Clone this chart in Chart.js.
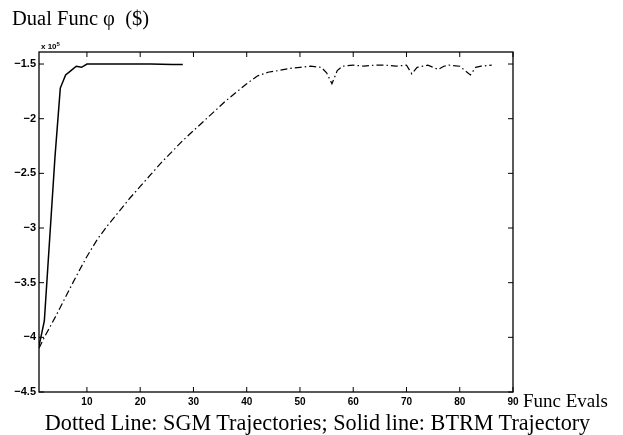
<!DOCTYPE html>
<html><head><meta charset="utf-8">
<script src="https://cdn.jsdelivr.net/npm/chart.js@4"></script>
<style>
html,body{margin:0;padding:0;background:#fff;}
#wrap{position:relative;width:623px;height:435px;overflow:hidden;background:#fff;}
canvas{position:absolute;left:0;top:0;}
.t{position:absolute;font-family:"Liberation Serif","Times New Roman",serif;color:#000;white-space:nowrap;line-height:1;}
</style></head><body>
<div id="wrap">
<canvas id="c" width="623" height="435"></canvas>
<div class="t" style="left:12px;top:8px;font-size:20.5px;">Dual Func φ&nbsp;&nbsp;($)</div>
<div class="t" style="left:41px;top:41px;font-family:'Liberation Sans',Arial,sans-serif;font-size:8px;font-weight:bold;">x 10<sup style="font-size:6px;vertical-align:3px;">5</sup></div>
<div class="t" style="left:523px;top:391px;font-size:19px;">Func Evals</div>
<div class="t" style="left:6px;width:623px;text-align:center;top:412px;font-size:22.2px;">Dotted Line: SGM Trajectories; Solid line: BTRM Trajectory</div>
</div>
<script>
// Values in units of 10^5 $
const btrmX = [1, 2, 3, 4, 5, 6, 7, 8, 9, 10, 12, 14, 18, 22, 26, 28];
const btrmY = [-4.08, -3.85, -3.1, -2.35, -1.72, -1.6, -1.56, -1.52, -1.53, -1.5, -1.5, -1.5, -1.5, -1.5, -1.505, -1.505];

const sgmX = [1, 2, 4, 6, 8, 10, 12, 14, 16, 18, 20, 22, 24, 26, 28, 30, 32, 34, 36, 38, 40, 42, 44, 46, 48, 50, 52, 54, 55, 56, 57, 58, 60, 62, 64, 66, 68, 70, 71, 72, 74, 75, 76, 77, 78, 80, 81, 82, 83, 84, 86];
const sgmY = [-4.1, -4.0, -3.82, -3.63, -3.44, -3.26, -3.1, -2.97, -2.85, -2.73, -2.62, -2.51, -2.4, -2.3, -2.2, -2.11, -2.02, -1.93, -1.84, -1.76, -1.68, -1.61, -1.575, -1.56, -1.54, -1.53, -1.52, -1.53, -1.58, -1.68, -1.56, -1.52, -1.51, -1.52, -1.51, -1.51, -1.52, -1.51, -1.59, -1.53, -1.51, -1.53, -1.55, -1.52, -1.51, -1.52, -1.56, -1.6, -1.53, -1.52, -1.51];

const xTicks = [10, 20, 30, 40, 50, 60, 70, 80, 90];
const yTicks = [-4.5, -4, -3.5, -3, -2.5, -2, -1.5];

const toPts = (xs, ys) => xs.map((x, i) => ({x: x, y: ys[i]}));

const boxPlugin = {
  id: 'box',
  afterDatasetsDraw(chart) {
    const {ctx, chartArea: a, scales: {x, y}} = chart;
    ctx.save();
    ctx.strokeStyle = '#000';
    ctx.lineWidth = 1.3;
    ctx.strokeRect(a.left, a.top, a.right - a.left, a.bottom - a.top);
    ctx.lineWidth = 1;
    ctx.beginPath();
    x.ticks.forEach(t => {
      const px = x.getPixelForValue(t.value);
      ctx.moveTo(px, a.bottom); ctx.lineTo(px, a.bottom - 5);
      ctx.moveTo(px, a.top); ctx.lineTo(px, a.top + 5);
    });
    y.ticks.forEach(t => {
      const py = y.getPixelForValue(t.value);
      ctx.moveTo(a.left, py); ctx.lineTo(a.left + 5, py);
      ctx.moveTo(a.right, py); ctx.lineTo(a.right - 5, py);
    });
    ctx.stroke();
    ctx.restore();
  }
};

new Chart(document.getElementById('c'), {
  type: 'line',
  data: {
    datasets: [
      {label: 'BTRM', data: toPts(btrmX, btrmY), borderColor: '#000', borderWidth: 1.5, pointRadius: 0, tension: 0, fill: false},
      {label: 'SGM', data: toPts(sgmX, sgmY), borderColor: '#000', borderWidth: 1.2, borderDash: [7, 3, 1.5, 3], pointRadius: 0, tension: 0, fill: false}
    ]
  },
  options: {
    responsive: false,
    animation: false,
    devicePixelRatio: 1,
    layout: {padding: {left: 0, top: 52, right: 110, bottom: 23}},
    plugins: {legend: {display: false}, tooltip: {enabled: false}},
    scales: {
      x: {
        type: 'linear', min: 1, max: 90,
        afterBuildTicks: s => { s.ticks = xTicks.map(v => ({value: v})); },
        afterFit: s => { s.height = 20; },
        grid: {display: false, drawTicks: false},
        border: {display: false},
        ticks: {color: '#000', font: {family: 'Liberation Sans', size: 10, weight: 'bold'}, padding: 4, maxRotation: 0, autoSkip: false}
      },
      y: {
        type: 'linear', min: -4.5, max: -1.39,
        afterBuildTicks: s => { s.ticks = yTicks.map(v => ({value: v})); },
        afterFit: s => { s.width = 39; },
        grid: {display: false, drawTicks: false},
        border: {display: false},
        ticks: {color: '#000', font: {family: 'Liberation Sans', size: 11, weight: 'bold'}, padding: 3, callback: v => String(v).replace('-', '\u2212')}
      }
    }
  },
  plugins: [boxPlugin]
});
</script>
</body></html>
